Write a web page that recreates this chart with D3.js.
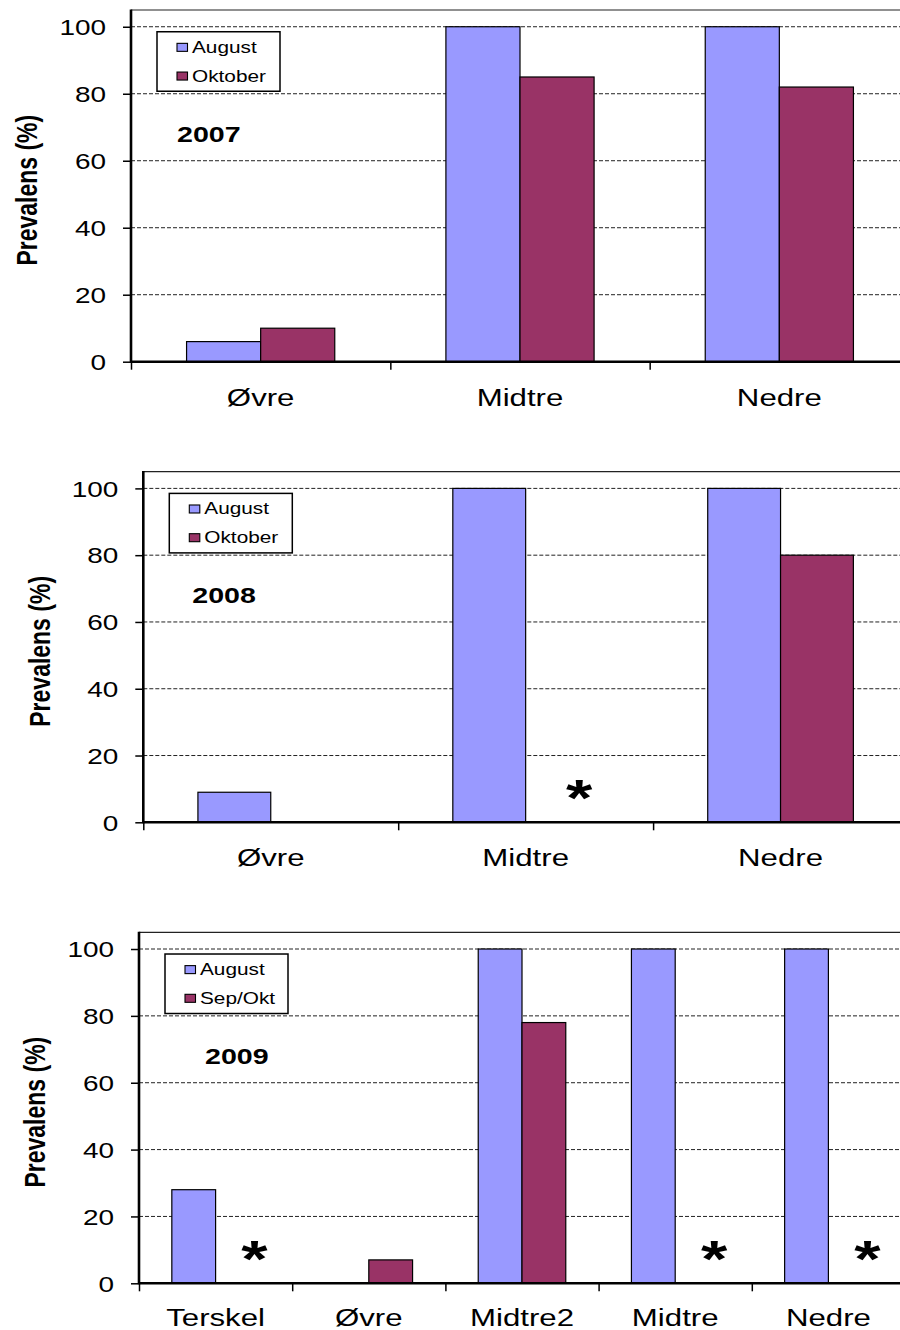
<!DOCTYPE html>
<html>
<head>
<meta charset="utf-8">
<script src="https://cdn.jsdelivr.net/npm/d3@7"></script>
<style>
  html, body { margin: 0; padding: 0; background: #fff; }
  svg { display: block; }
  text { font-family: "Liberation Sans", Arial, sans-serif; fill: #000; }
</style>
</head>
<body>
<svg id="chart" width="900" height="1330"></svg>
<script>
// ---------- data ----------
const yTicks = [0, 20, 40, 60, 80, 100];

const categories2007 = ["Øvre", "Midtre", "Nedre"];
const august2007 = [6, 100, 100];
const oktober2007 = [10, 85, 82];
const asterisks2007 = [];

const categories2008 = ["Øvre", "Midtre", "Nedre"];
const august2008 = [9, 100, 100];
const oktober2008 = [null, null, 80];
const asterisks2008 = ["Midtre"];

const categories2009 = ["Terskel", "Øvre", "Midtre2", "Midtre", "Nedre"];
const august2009 = [28, null, 100, 100, 100];
const sepokt2009 = [null, 7, 78, null, null];
const asterisks2009 = ["Terskel", "Midtre", "Nedre"];

const seriesNames2007 = ["August", "Oktober"];
const seriesNames2008 = ["August", "Oktober"];
const seriesNames2009 = ["August", "Sep/Okt"];
const years = ["2007", "2008", "2009"];

// ---------- styling / layout ----------
const colors = ["#9999FF", "#993366"];
const SX = 1.3; // horizontal stretch of the original picture
const FONT = '"Liberation Sans", Arial, sans-serif';

const panels = [
  { cats: categories2007, series: [august2007, oktober2007], names: seriesNames2007, year: years[0], stars: asterisks2007,
    left: 131, right: 909, top: 10, bottom: 361.7, yearDx: 46 },
  { cats: categories2008, series: [august2008, oktober2008], names: seriesNames2008, year: years[1], stars: asterisks2008,
    left: 143.3, right: 908, top: 471.7, bottom: 822.3, yearDx: 49 },
  { cats: categories2009, series: [august2009, sepokt2009], names: seriesNames2009, year: years[2], stars: asterisks2009,
    left: 139, right: 905, top: 932.3, bottom: 1283.3, yearDx: 66 }
];

const svg = d3.select("#chart");

function sText(g, x, y, str, size, opts = {}) {
  const t = g.append("text")
    .attr("transform", `translate(${x},${y}) scale(${opts.sx || SX},1)` + (opts.rotate ? ` rotate(${opts.rotate})` : ""))
    .attr("font-size", size)
    .attr("font-family", opts.font || FONT)
    .attr("text-anchor", opts.anchor || "start")
    .text(str);
  if (opts.bold) t.attr("font-weight", "bold");
  if (opts.dy) t.attr("dy", opts.dy);
  return t;
}

panels.forEach(p => {
  const g = svg.append("g");
  const y = d3.scaleLinear().domain([0, 105]).range([p.bottom, p.top]);
  const x0 = d3.scaleBand().domain(p.cats).range([p.left, p.right]).paddingInner(0).paddingOuter(0);
  const seriesIdx = p.series.map((_, i) => i);
  const x1 = d3.scaleBand().domain(seriesIdx).range([0, x0.bandwidth()]).paddingInner(0).paddingOuter(0.75);

  // top frame line
  g.append("line")
    .attr("x1", p.left).attr("x2", 900)
    .attr("y1", p.top).attr("y2", p.top)
    .attr("stroke", "#222").attr("stroke-width", 1.2);

  // gridlines
  g.selectAll("line.grid").data(yTicks.filter(d => d > 0)).enter().append("line")
    .attr("class", "grid")
    .attr("x1", p.left).attr("x2", 900)
    .attr("y1", d => y(d)).attr("y2", d => y(d))
    .attr("stroke", "#222").attr("stroke-width", 1)
    .attr("stroke-dasharray", "4,2");

  // bars
  p.cats.forEach((c, i) => {
    seriesIdx.forEach(s => {
      const v = p.series[s][i];
      if (v === null || v === undefined) return;
      g.append("rect")
        .attr("x", x0(c) + x1(s))
        .attr("y", y(v))
        .attr("width", x1.bandwidth())
        .attr("height", y(0) - y(v))
        .attr("fill", colors[s])
        .attr("stroke", "#000").attr("stroke-width", 1.2);
    });
  });

  // asterisks (no second-period sample)
  p.stars.forEach(c => {
    const cx = x0(c) + x1(1) + x1.bandwidth() / 2 + 17;
    sText(g, cx, y(0) - 6.5, "*", 52, { anchor: "middle", bold: true,
          font: '"DejaVu Sans", "Liberation Sans", sans-serif', sx: 1.3 });
  });

  // y axis
  const yAxis = d3.axisLeft(y).tickValues(yTicks).tickSize(8).tickSizeOuter(0);
  const ya = g.append("g").attr("transform", `translate(${p.left},0)`).call(yAxis);
  ya.select(".domain").remove();
  ya.selectAll(".tick line").attr("stroke", "#000").attr("stroke-width", 1.5);
  ya.selectAll(".tick text")
    .attr("x", null).attr("dy", "0.36em")
    .attr("transform", `translate(-25,0) scale(${SX},1)`)
    .attr("font-size", 21.5).attr("font-family", FONT)
    .attr("text-anchor", "end").attr("fill", "#000");
  g.append("line")
    .attr("x1", p.left).attr("x2", p.left)
    .attr("y1", p.top - 0.6).attr("y2", y(0) + 1)
    .attr("stroke", "#000").attr("stroke-width", 2.6);

  // x axis (ticks at category boundaries)
  const xb = d3.scaleLinear().domain([0, p.cats.length]).range([p.left, p.right]);
  const xAxis = d3.axisBottom(xb).tickValues(d3.range(0, p.cats.length + 1)).tickSize(8).tickFormat("");
  const xa = g.append("g").attr("transform", `translate(0,${y(0)})`).call(xAxis);
  xa.select(".domain").remove();
  xa.selectAll(".tick line").attr("stroke", "#000").attr("stroke-width", 1.5);
  g.append("line")
    .attr("x1", p.left).attr("x2", 900)
    .attr("y1", y(0)).attr("y2", y(0))
    .attr("stroke", "#000").attr("stroke-width", 2.4);

  // category labels
  p.cats.forEach(c => {
    sText(g, x0(c) + x0.bandwidth() / 2, Math.min(y(0) + 44, 1326), c, 24, { anchor: "middle" });
  });

  // y-axis title
  sText(g, p.left - 104, (y(0) + y(100)) / 2 - 4, "Prevalens (%)", 23,
        { anchor: "middle", bold: true, rotate: -90, dy: "0.35em" });

  // year label
  sText(g, p.left + p.yearDx, y(100) + 115, p.year, 22, { bold: true });

  // legend
  const lx = p.left + 26, ly = y(100) + 5;
  const lg = g.append("g");
  lg.append("rect").attr("x", lx).attr("y", ly).attr("width", 123).attr("height", 59.5)
    .attr("fill", "#fff").attr("stroke", "#000").attr("stroke-width", 1.5);
  p.names.forEach((n, i) => {
    const cy = ly + 15.6 + i * 28.7;
    lg.append("rect").attr("x", lx + 20).attr("y", cy - 4).attr("width", 10.5).attr("height", 8)
      .attr("fill", colors[i]).attr("stroke", "#000").attr("stroke-width", 1.1);
    sText(lg, lx + 35, cy + 5.5, n, 16);
  });
});
</script>
</body>
</html>
